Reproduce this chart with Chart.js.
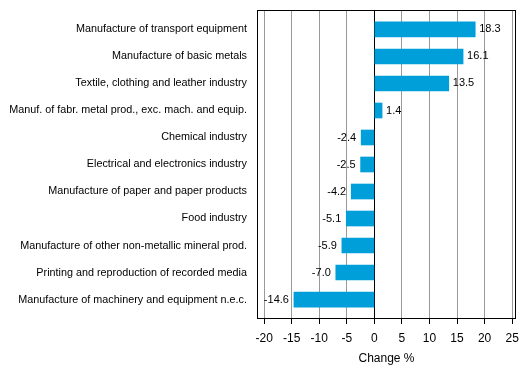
<!DOCTYPE html>
<html>
<head>
<meta charset="utf-8">
<script src="https://cdn.jsdelivr.net/npm/chart.js@4"></script>
<style>
html,body{margin:0;padding:0;background:#fff;}
#wrap{width:529px;height:378px;}
</style>
</head>
<body>
<div id="wrap"><canvas id="c" width="529" height="378"></canvas></div>
<script>
const categories = [
  "Manufacture of transport equipment",
  "Manufacture of basic metals",
  "Textile, clothing and leather industry",
  "Manuf. of fabr. metal prod., exc. mach. and equip.",
  "Chemical industry",
  "Electrical and electronics industry",
  "Manufacture of paper and paper products",
  "Food industry",
  "Manufacture of other non-metallic mineral prod.",
  "Printing and reproduction of recorded media",
  "Manufacture of machinery and equipment n.e.c."
];
const changeValues = [18.3, 16.1, 13.5, 1.4, -2.4, -2.5, -4.2, -5.1, -5.9, -7.0, -14.6];
const xTickValues = [-20, -15, -10, -5, 0, 5, 10, 15, 20, 25];
const axisTitle = "Change %";

const FONT = "'Liberation Sans', Arial, sans-serif";
const barColor = "#009fda";

const framePlugin = {
  id: 'frame',
  afterDraw(chart) {
    const a = chart.chartArea, ctx = chart.ctx;
    ctx.save();
    ctx.strokeStyle = '#000';
    ctx.lineWidth = 1;
    const l = Math.round(a.left) + 0.5, t = Math.round(a.top) + 0.5;
    const r = Math.round(a.right) - 0.5, b = Math.round(a.bottom) - 0.5;
    ctx.strokeRect(l, t, r - l, b - t);
    ctx.restore();
  }
};

const labelPlugin = {
  id: 'valueLabels',
  afterDatasetsDraw(chart) {
    const ctx = chart.ctx;
    const meta = chart.getDatasetMeta(0);
    ctx.save();
    ctx.font = "11px " + FONT;
    ctx.fillStyle = '#000';
    ctx.textBaseline = 'middle';
    meta.data.forEach((el, i) => {
      const v = changeValues[i];
      const txt = v.toFixed(1);
      if (v >= 0) {
        ctx.textAlign = 'left';
        ctx.fillText(txt, el.x + 4, el.y);
      } else {
        ctx.textAlign = 'right';
        ctx.fillText(txt, el.x - 5, el.y);
      }
    });
    ctx.restore();
  }
};

new Chart(document.getElementById('c'), {
  type: 'bar',
  data: {
    datasets: [{
      data: changeValues.map((v, i) => ({x: v, y: i})),
      backgroundColor: barColor,
      borderWidth: 0,
      barThickness: 15
    }]
  },
  options: {
    indexAxis: 'y',
    responsive: false,
    animation: false,
    devicePixelRatio: 1,
    layout: {padding: {left: 0, right: 13, top: 10, bottom: 12}},
    plugins: {legend: {display: false}, tooltip: {enabled: false}},
    scales: {
      x: {
        type: 'linear',
        min: -21.3,
        max: 25.7,
        afterBuildTicks(scale) { scale.ticks = xTickValues.map(v => ({value: v})); },
        afterFit(scale) { scale.height = 47; scale.paddingLeft = 0; scale.paddingRight = 0; },
        grid: {
          color: ctx => (ctx.tick && ctx.tick.value === 0) ? '#000' : '#999',
          tickColor: '#000',
          tickLength: 5,
          lineWidth: 1
        },
        border: {display: false},
        ticks: {
          color: '#000',
          font: {family: FONT, size: 12},
          padding: 7,
          maxRotation: 0,
          autoSkip: false,
          callback: v => String(v)
        },
        title: {
          display: true,
          text: axisTitle,
          color: '#000',
          font: {family: FONT, size: 12},
          padding: {top: 4, bottom: 0}
        }
      },
      y: {
        type: 'linear',
        reverse: true,
        offset: false,
        min: -0.72,
        max: 10.72,
        afterBuildTicks(scale) { scale.ticks = categories.map((c, i) => ({value: i})); },
        afterFit(scale) { scale.width = 257; scale.paddingTop = 0; scale.paddingBottom = 0; },
        grid: {display: false, drawTicks: false, offset: false},
        border: {display: false},
        ticks: {
          color: '#000',
          font: {family: FONT, size: 10.8},
          padding: 10,
          autoSkip: false,
          callback: v => categories[v] !== undefined ? categories[v] : ''
        }
      }
    }
  },
  plugins: [framePlugin, labelPlugin]
});
</script>
</body>
</html>
